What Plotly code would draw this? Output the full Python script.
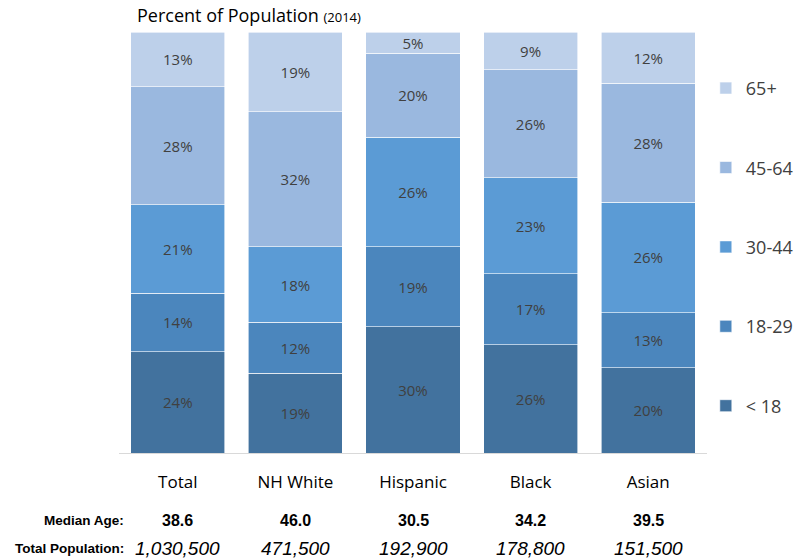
import plotly.graph_objects as go

categories = ["Total", "NH White", "Hispanic", "Black", "Asian"]
age_groups = ["< 18", "18-29", "30-44", "45-64", "65+"]
under18 = [24, 19, 30, 26, 20]
age18_29 = [14, 12, 19, 17, 13]
age30_44 = [21, 18, 26, 23, 26]
age45_64 = [28, 32, 20, 26, 28]
age65 = [13, 19, 5, 9, 12]
median_age = ["38.6", "46.0", "30.5", "34.2", "39.5"]
total_pop = ["1,030,500", "471,500", "192,900", "178,800", "151,500"]

series = [under18, age18_29, age30_44, age45_64, age65]
colors = ["#42729e", "#4b86bd", "#5b9bd5", "#9ab8df", "#bdd0ea"]

fig = go.Figure()
for i, (name, vals, col) in enumerate(zip(age_groups, series, colors)):
    fig.add_trace(go.Bar(
        x=categories, y=vals, name=name,
        marker=dict(color=col, line=dict(color="white", width=0.6)),
        text=[f"{v}%" for v in vals], textposition="inside",
        insidetextanchor="middle",
        textfont=dict(family="Open Sans, Liberation Sans", size=15, color="#404040"),
        hoverinfo="skip", legendgroup=name, legendrank=100 - i,
    ))

fig.update_layout(
    barmode="stack", barnorm="percent", bargap=0.2,
    width=799, height=560,
    margin=dict(l=119, r=92, t=32, b=107, autoexpand=False),
    plot_bgcolor="white", paper_bgcolor="white",
    showlegend=True,
    legend=dict(x=0.998, y=0.91, xanchor="left", yanchor="top",
                traceorder="grouped", tracegroupgap=53,
                font=dict(family="Open Sans, Liberation Sans", size=18, color="#404040"),
                itemwidth=30),
    uniformtext=dict(mode="show", minsize=12),
    xaxis=dict(showticklabels=True, tickfont=dict(family="Open Sans, Liberation Sans", size=17, color="#000000"),
               showline=True, linecolor="#d9d9d9", linewidth=1, ticks="", ticklen=0,
               range=[-0.5, 4.5]),
    yaxis=dict(visible=False, range=[0, 100]),
)
fig.update_xaxes(ticklabelstandoff=14)

fig.add_annotation(xref="paper", yref="paper", x=0.027, y=1.0, yshift=31, xanchor="left", yanchor="top",
                   text="Percent of Population <span style='font-size:13px'>(2014)</span>",
                   showarrow=False, font=dict(family="Open Sans, Liberation Sans", size=18, color="#000000"))

fig.add_annotation(xref="paper", yref="paper", x=0.012, y=0, yshift=-67, xanchor="right", yanchor="middle",
                   text="<b>Median Age:</b>", showarrow=False,
                   font=dict(family="Liberation Sans Narrow, Liberation Sans", size=13.5, color="#000000"))
fig.add_annotation(xref="paper", yref="paper", x=0.012, y=0, yshift=-95, xanchor="right", yanchor="middle",
                   text="<b>Total Population:</b>", showarrow=False,
                   font=dict(family="Liberation Sans Narrow, Liberation Sans", size=13.5, color="#000000"))
for c, m, p in zip(categories, median_age, total_pop):
    fig.add_annotation(x=c, xref="x", yref="paper", y=0, yshift=-67, yanchor="middle",
                       text=f"<b>{m}</b>", showarrow=False,
                       font=dict(family="Liberation Sans Narrow, Liberation Sans", size=16, color="#000000"))
    fig.add_annotation(x=c, xref="x", yref="paper", y=0, yshift=-95, yanchor="middle",
                       text=f"<i>{p}</i>", showarrow=False,
                       font=dict(family="Liberation Sans Narrow, Liberation Sans", size=19, color="#000000"))

fig.write_html("out.html", config={"displayModeBar": False},
               post_script="document.body.style.margin='0';document.body.style.overflow='hidden';")
